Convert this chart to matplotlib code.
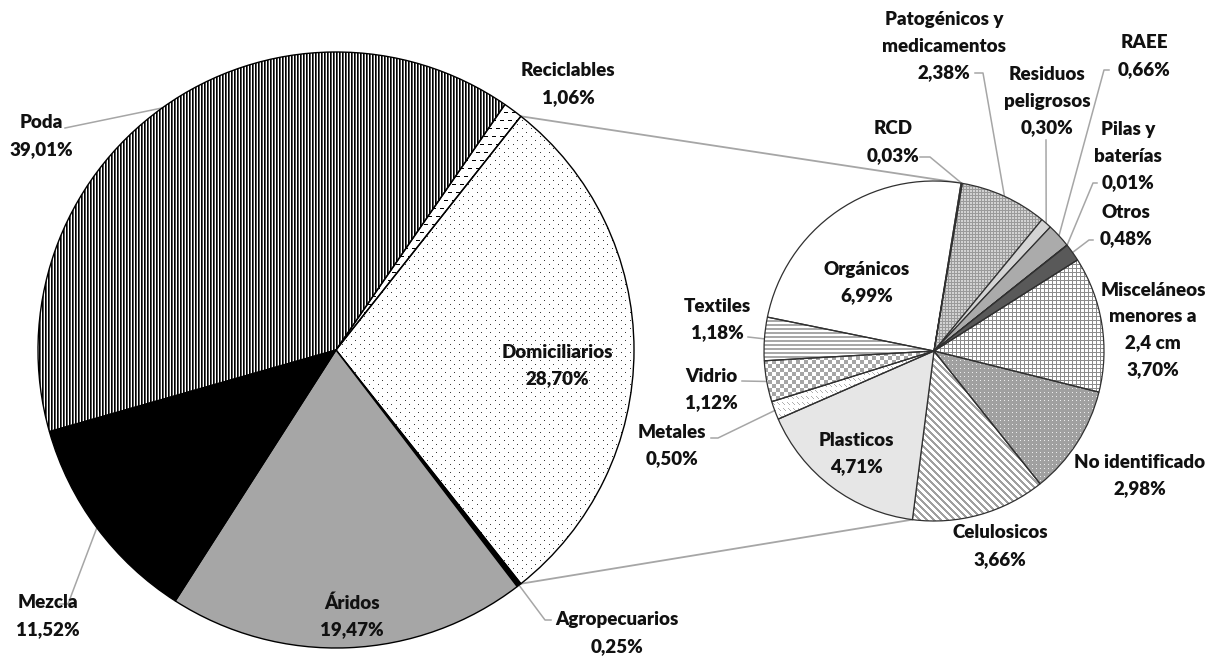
import numpy as np
import matplotlib
matplotlib.use('Agg')
import matplotlib.pyplot as plt

W, H = 1211, 656

# ---------------- data ----------------
main_labels = ['Domiciliarios', 'Agropecuarios', 'Áridos', 'Mezcla', 'Poda', 'Reciclables']
main_values = [28.70, 0.25, 19.47, 11.52, 39.01, 1.06]

sub_labels = ['Orgánicos', 'RCD', 'Patogénicos y\nmedicamentos', 'Residuos\npeligrosos', 'RAEE',
              'Pilas y\nbaterías', 'Otros', 'Misceláneos\nmenores a\n2,4 cm', 'No identificado',
              'Celulosicos', 'Plasticos', 'Metales', 'Vidrio', 'Textiles']
sub_values = [6.99, 0.03, 2.38, 0.30, 0.66, 0.01, 0.48, 3.70, 2.98, 3.66, 4.71, 0.50, 1.12, 1.18]

# ---------------- layout (pixel coords, y from top) ----------------
MAIN_C, MAIN_R = (336, 350), 298
SUB_C, SUB_R = (934, 351), 170
SUB_START = 168.5

main_label_pos = {
    'Domiciliarios': (557, 352), 'Agropecuarios': (617, 620), 'Áridos': (352, 603),
    'Mezcla': (48, 603), 'Poda': (41, 123), 'Reciclables': (568, 71)}
sub_label_pos = {
    'Orgánicos': (867, 269), 'RCD': (893, 129), 'Patogénicos y\nmedicamentos': (944, 20),
    'Residuos\npeligrosos': (1047, 75), 'RAEE': (1144, 43), 'Pilas y\nbaterías': (1128, 130),
    'Otros': (1126, 212), 'Misceláneos\nmenores a\n2,4 cm': (1153, 290),
    'No identificado': (1140, 462), 'Celulosicos': (1000, 533), 'Plasticos': (856, 440),
    'Metales': (672, 432), 'Vidrio': (711, 376), 'Textiles': (717, 306)}
main_leaders = {'Poda': [(65, 128)], 'Mezcla': [(60, 604), (68, 604)],
                'Agropecuarios': [(551, 620), (545, 620)]}
sub_leaders = {'RCD': [(920, 157), (930, 157)], 'Patogénicos y\nmedicamentos': [(975, 73), (983, 73)],
               'Residuos\npeligrosos': [(1046, 140)], 'RAEE': [(1109, 70), (1104, 70)],
               'Pilas y\nbaterías': [(1097, 183), (1093, 183)], 'Otros': [(1093, 240), (1089, 240)],
               'Metales': [(711, 438), (718, 438)], 'Vidrio': [(742, 381)], 'Textiles': [(748, 337)]}

LINE_STEP = 26.5
FS = 13.5
FONT = ['Lato', 'DejaVu Sans']
WEIGHT = 'heavy'
TXT = '#111111'
LEAD = '#a6a6a6'

# ---------------- textures ----------------
Yp, Xp = np.mgrid[0:H, 0:W]


def tex(bg, fg, mask):
    img = np.empty((H, W, 3))
    img[:] = matplotlib.colors.to_rgb(bg)
    img[mask] = matplotlib.colors.to_rgb(fg)
    return img


def poda_tex():
    img = tex('white', 'black', Xp % 3 == 0)
    img[Xp % 3 == 1] = matplotlib.colors.to_rgb('#555555')
    return img


textures = {
    'Poda': poda_tex(),
    'Domiciliarios': tex('white', '#3a3a3a', ((Xp % 9 == 0) & (Yp % 8 == 0)) | ((Xp % 9 == 4) & (Yp % 8 == 4))),
    'Reciclables': tex('white', 'black', (Yp % 8 == 0) & (((Xp + (Yp // 8) * 4) % 8) < 4)),
    'Patogénicos y\nmedicamentos': tex('#d2d2d2', '#9a9a9a', (Xp % 3 == 0) | (Yp % 3 == 0)),
    'Misceláneos\nmenores a\n2,4 cm': tex('white', '#8c8c8c', (Xp % 4 == 0) | (Yp % 4 == 0)),
    'No identificado': tex('#a0a0a0', '#ececec', (Xp % 4 == 0) & (Yp % 4 == 0)),
    'Celulosicos': tex('white', '#a0a0a0', ((Xp - Yp) % 7) < 3),
    'Metales': tex('white', '#b0b0b0', (((Xp - Yp) % 5) == 0) & (Yp % 6 < 3)),
    'Vidrio': tex('white', '#a6a6a6', ((Xp // 4 + Yp // 4) % 2) == 1),
    'Textiles': tex('white', '#a8a8a8', (Yp % 4) < 2),
}

main_colors = {'Domiciliarios': 'none', 'Agropecuarios': 'black', 'Áridos': '#a6a6a6',
               'Mezcla': 'black', 'Poda': 'none', 'Reciclables': 'none'}
sub_colors = {'Orgánicos': 'white', 'RCD': 'white', 'Residuos\npeligrosos': '#d4d4d4', 'RAEE': '#ababab',
              'Pilas y\nbaterías': '#7f7f7f', 'Otros': '#595959', 'Plasticos': '#e6e6e6'}


def P(x, y):
    return (x, H - y)


def pct(v):
    return f"{v:.2f}".replace('.', ',') + '%'


fig = plt.figure(figsize=(W / 100, H / 100), dpi=100)
ax = fig.add_axes([0, 0, 1, 1])

total_main = sum(main_values)
main_start = 360 * main_values[0] / total_main / 2
mw, _ = ax.pie(main_values, center=P(*MAIN_C), radius=MAIN_R, startangle=main_start,
               counterclock=False, wedgeprops=dict(edgecolor='black', linewidth=1.0))
sw, _ = ax.pie(sub_values, center=P(*SUB_C), radius=SUB_R, startangle=SUB_START,
               counterclock=False, wedgeprops=dict(edgecolor='#303030', linewidth=0.9))


def style(wedges, labels, colors, z):
    for w, lab in zip(wedges, labels):
        w.set_zorder(z)
        if lab in textures:
            w.set_facecolor('none')
            im = ax.imshow(textures[lab], extent=(0, W, 0, H), origin='upper',
                           interpolation='nearest', zorder=z - 0.5)
            im.set_clip_path(w)
        else:
            w.set_facecolor(colors.get(lab, 'white'))


style(mw, main_labels, main_colors, 3)
style(sw, sub_labels, sub_colors, 3)


def rim(center, r, ang):
    a = np.deg2rad(ang)
    return (center[0] + r * np.cos(a), center[1] + r * np.sin(a))


# connector lines
d = mw[0]
o = sw[0]
ce = sw[sub_labels.index('Celulosicos')]
p1 = rim(P(*MAIN_C), MAIN_R, d.theta2)
q1 = rim(P(*SUB_C), SUB_R, o.theta1)
p2 = rim(P(*MAIN_C), MAIN_R, d.theta1)
q2 = rim(P(*SUB_C), SUB_R, ce.theta1)
ax.plot([p1[0], q1[0]], [p1[1], q1[1]], color=LEAD, lw=1.3, zorder=1)
ax.plot([p2[0], q2[0]], [p2[1], q2[1]], color=LEAD, lw=1.3, zorder=1)


def leaders(wedges, labels, table, center, r):
    for w, lab in zip(wedges, labels):
        if lab in table:
            pts = [P(*p) for p in table[lab]]
            mid = (w.theta1 + w.theta2) / 2
            pts.append(rim(center, r, mid))
            xs, ys = zip(*pts)
            ax.plot(xs, ys, color=LEAD, lw=1.1, zorder=1)


leaders(mw, main_labels, main_leaders, P(*MAIN_C), MAIN_R)
leaders(sw, sub_labels, sub_leaders, P(*SUB_C), SUB_R)


def put_label(text_lines, pos):
    x, y0 = pos
    for i, ln in enumerate(text_lines):
        ax.text(x, H - (y0 + i * LINE_STEP), ln, ha='center', va='center', fontsize=FS,
                fontweight=WEIGHT, family=FONT, color=TXT, zorder=10)


for lab, v in zip(main_labels, main_values):
    put_label(lab.split('\n') + [pct(v)], main_label_pos[lab])
for lab, v in zip(sub_labels, sub_values):
    put_label(lab.split('\n') + [pct(v)], sub_label_pos[lab])

ax.set_xlim(0, W)
ax.set_ylim(0, H)
ax.set_aspect('auto')
ax.axis('off')
fig.savefig('out.png', dpi=100, facecolor='white')
